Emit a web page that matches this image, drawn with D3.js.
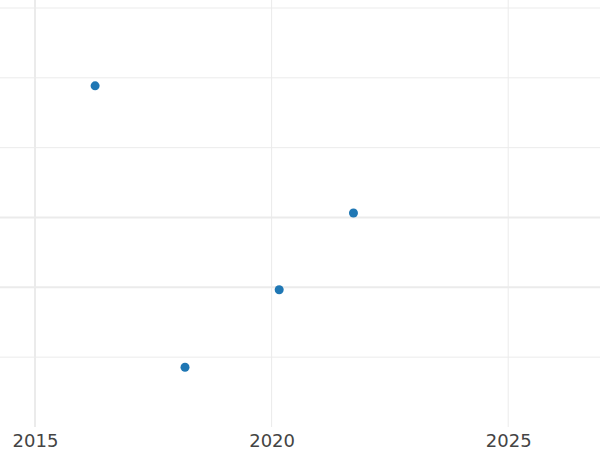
<!DOCTYPE html>
<html>
<head>
<meta charset="utf-8">
<script src="https://cdn.jsdelivr.net/npm/d3@7"></script>
<style>
  body { margin: 0; background: #fff; }
  svg { display: block; }
</style>
</head>
<body>
<svg id="chart" width="600" height="450"></svg>
<script>
// point data
const years = [2016.27, 2018.17, 2020.16, 2021.73];
const values = [4.885, 0.855, 1.965, 3.065];

const xTicks = [2015, 2020, 2025];
const yTicks = [1, 2, 3, 4, 5, 6];

const svg = d3.select('#chart');

const x = d3.scaleLinear().domain([2014.26, 2026.94]).range([0, 600]);
const y = d3.scaleLinear().domain([0, 6]).range([427, 8]);

const grid = svg.append('g').attr('class', 'grid');

grid.selectAll('line.h')
  .data(yTicks)
  .enter()
  .append('line')
  .attr('class', 'h')
  .attr('x1', 0)
  .attr('x2', 600)
  .attr('y1', d => y(d))
  .attr('y2', d => y(d))
  .attr('stroke', '#ebebeb')
  .attr('stroke-width', d => (d === 2 || d === 3) ? 2 : 1);

grid.selectAll('line.v')
  .data(xTicks)
  .enter()
  .append('line')
  .attr('class', 'v')
  .attr('x1', d => x(d))
  .attr('x2', d => x(d))
  .attr('y1', 0)
  .attr('y2', 427)
  .attr('stroke', '#ebebeb')
  .attr('stroke-width', d => d === 2015 ? 2 : 1);

// x axis labels
const xAxis = svg.append('g')
  .attr('transform', 'translate(0,427)')
  .call(d3.axisBottom(x).tickValues(xTicks).tickFormat(d3.format('d')).tickSize(0).tickPadding(7));
xAxis.select('.domain').remove();
xAxis.selectAll('text')
  .attr('fill', '#444')
  .style('font-family', 'DejaVu Sans, sans-serif')
  .style('font-size', '18px');

svg.append('g')
  .attr('class', 'points')
  .selectAll('circle')
  .data(years.map((yr, i) => ({ yr, v: values[i] })))
  .enter()
  .append('circle')
  .attr('cx', d => x(d.yr))
  .attr('cy', d => y(d.v))
  .attr('r', 4.5)
  .attr('fill', '#1f77b4');
</script>
</body>
</html>
